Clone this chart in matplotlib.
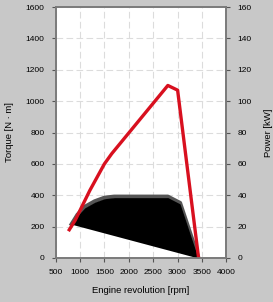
import matplotlib
matplotlib.use('Agg')
import matplotlib.pyplot as plt
import numpy as np

plt.rcParams['font.family'] = ['Liberation Sans', 'DejaVu Sans']
plt.rcParams['font.size'] = 6.5

# torque curve (red), left axis
torque_rpm = [780, 900, 1200, 1500, 1650, 2800, 3000, 3430]
torque_nm = [180, 240, 430, 600, 665, 1100, 1070, 0]

# power curve (black area), right-axis units scaled x10 on left
power_rpm = [830, 950, 1100, 1300, 1500, 1700, 2800, 3050, 3420]
power_kw = [21, 27, 32, 35.5, 37.8, 38.5, 38.5, 34.5, 0]
base_rpm = [830, 3420]
base_kw = [21.5, 0]

xticks = np.arange(500, 4001, 500)
lticks = np.arange(0, 1601, 200)
rticks = np.arange(0, 161, 20)

fig = plt.figure(figsize=(2.73, 3.02), dpi=100)
fig.patch.set_facecolor('#c8c8c8')
ax = fig.add_axes([0.2037, 0.1457, 0.6256, 0.831])
ax.set_facecolor('white')

ax.set_xlim(500, 4000)
ax.set_ylim(0, 1600)
ax.set_xticks(xticks)
ax.set_yticks(lticks)
ax.grid(True, color='#dcdcdc', linestyle=(0, (6, 3)), linewidth=0.8)
ax.set_axisbelow(True)

p_rpm = np.array(power_rpm)
p_top = np.array(power_kw) * 10
p_bot = np.interp(p_rpm, base_rpm, np.array(base_kw) * 10)
ax.plot(p_rpm, p_top + 6, color='#555555', lw=3.0, zorder=2, solid_joinstyle='round')
ax.fill_between(p_rpm, p_bot, p_top, color='black', lw=0, zorder=3)
ax.plot(torque_rpm, torque_nm, color='#d8101f', lw=2.4, zorder=4, solid_joinstyle='round')

for s in ax.spines.values():
    s.set_color('#7a7a7a')
    s.set_linewidth(1.2)
ax.tick_params(direction='out', length=3, width=0.8, color='#555555', labelsize=6, pad=5)

ax2 = ax.twinx()
ax2.set_ylim(0, 160)
ax2.set_yticks(rticks)
ax2.tick_params(direction='out', length=3, width=0.8, color='#555555', labelsize=6, pad=5)
for s in ax2.spines.values():
    s.set_color('#7a7a7a')
    s.set_linewidth(1.2)

ax.set_xlabel('Engine revolution [rpm]', fontsize=6.8, labelpad=7)
ax.set_ylabel('Torque [N · m]', fontsize=6.8, labelpad=8)
ax2.set_ylabel('Power [kW]', fontsize=6.8, labelpad=9)

fig.savefig('out.png', dpi=100, facecolor=fig.get_facecolor())
